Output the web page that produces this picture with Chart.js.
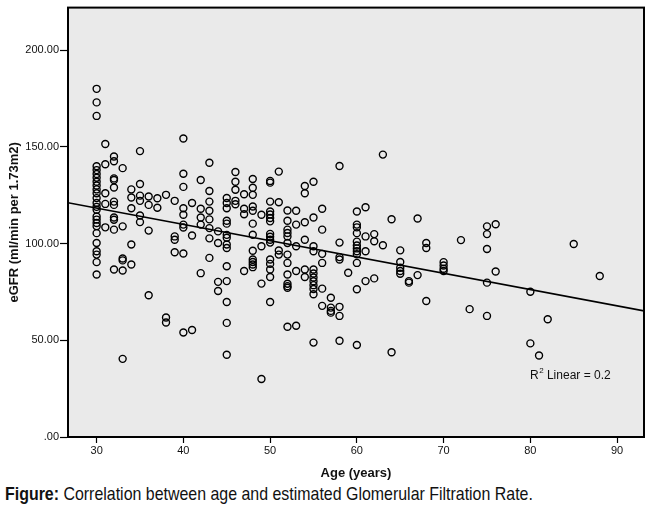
<!DOCTYPE html>
<html>
<head>
<meta charset="utf-8">
<script src="https://cdn.jsdelivr.net/npm/chart.js@4.4.1/dist/chart.umd.min.js"></script>
<style>
  html, body { margin: 0; padding: 0; background: #ffffff; }
  #wrap { position: relative; width: 650px; height: 482px; }
  #caption {
    position: absolute; left: 5px; top: 483px; margin: 0;
    font-family: "Liberation Sans Narrow", "Liberation Sans", Arial, sans-serif;
    font-stretch: condensed;
    font-size: 18.5px; line-height: 22px; color: #111; white-space: nowrap;
    transform-origin: 0 50%;
  }
  #caption b { font-weight: bold; }
</style>
</head>
<body>
<div id="wrap"><canvas id="c" width="650" height="482"></canvas></div>
<div id="caption"><b>Figure:</b> Correlation between age and estimated Glomerular Filtration Rate.</div>
<script>
// ---- data ----
const ages = [
  30,30,30,30,30,30,30,30,30,30,30,30,30,30,30,30,30,30,30,30,30,30,30,30,30,
  31,31,31,31,31,
  32,32,32,32,32,32,32,32,32,32,32,
  33,33,33,33,33,33,
  34,34,34,34,34,
  35,35,35,35,35,35,
  36,36,36,36,
  37,37,
  38,38,38,
  39,39,39,39,
  40,40,40,40,40,40,40,40,40,
  41,41,41,
  42,42,42,42,42,
  43,43,43,43,43,43,43,43,
  44,44,44,44,
  45,45,45,45,45,45,45,45,45,45,45,45,45,45,
  46,46,46,46,46,
  47,47,47,47,
  48,48,48,48,48,48,48,48,48,48,48,48,
  49,49,49,49,
  50,50,50,50,50,50,50,50,50,50,50,50,50,50,50,50,
  51,51,51,51,
  52,52,52,52,52,52,52,52,52,52,52,52,52,
  53,53,53,53,53,
  54,54,54,54,54,54,
  55,55,55,55,55,55,55,55,55,55,55,55,
  56,56,56,56,56,56,
  57,57,57,57,
  58,58,58,58,58,58,58,
  59,
  60,60,60,60,60,60,60,60,60,60,60,60,
  61,61,61,61,
  62,62,62,
  63,63,
  64,64,
  65,65,65,65,65,
  66,66,
  67,67,
  68,68,68,
  70,70,70,70,
  72,
  73,
  75,75,75,75,75,
  76,76,
  80,80,
  81,
  82,
  85,
  88
];
const egfr = [
  180,173,166,140,138,136,134,132,130,128,126,123.5,121,119,117.5,114,112.4,110.6,109,105.4,100.3,96,94.3,90.4,84,
  151.5,141,126,120.5,108.4,
  145,142.6,133.7,132.9,129,121.7,120,113.5,112.3,107.2,86.6,
  139,108.9,92.3,91.3,86.1,40.4,
  128,123.8,118.3,99.5,89.2,
  147.8,130.8,124.8,122.1,114.5,111.1,
  124.3,120,106.7,73.3,
  123.4,118.5,
  125.2,61.8,59.2,
  122.1,103.7,102,95.5,
  154.3,136.1,129.3,118.3,114.9,109.8,108.3,94.9,54,
  121,104.2,55.3,
  132.9,118,113.5,109.8,84.7,
  141.8,127.2,121.7,117,112.5,108,102.7,92.6,
  106.3,100.3,80.2,75.5,
  123.6,121,118.3,111.8,110.3,104.5,103,99.5,97.7,88.3,80.6,69.8,59,42.5,
  137,132,127.8,122.1,120.3,
  125.5,118,115.2,85.8,
  133.4,128.9,125.2,119.2,117,110.3,104.6,96.3,91.8,90.5,89.2,87.8,
  114.9,98.6,79.3,30,
  132.4,131.5,121.7,116.6,115,113.2,111.5,105,103.5,102,100.5,91.8,89.5,86.6,82.7,69.8,
  137.2,121.4,96.4,94.3,
  117.1,111.8,107.2,105.5,103.7,100.3,94.3,90,84,79.2,78,77.2,57,
  117,109.8,98.6,85.8,57.5,
  129.8,126,111,102,86.6,82.7,
  132,113.5,98.6,96,86.6,84.5,82.5,80.5,78.5,76.5,73.8,48.8,
  118,107.2,94.7,90,76.7,67.8,
  72,66.9,65.2,64.3,
  140.1,100.5,93,91.8,67.3,62.6,49.8,
  84.9,
  116.6,109.8,108.4,105.4,101,99,97.5,96,94.5,90,76.4,47.6,
  118.8,103.7,96,80.6,
  104.9,101.2,82,
  146,99.1,
  112.6,43.8,
  96.5,90.5,87.5,85.8,84.4,
  80.6,79.8,
  113,83.7,
  100.3,97.7,70.3,
  90.4,88.7,87,85.8,
  101.8,
  66.1,
  108.9,104.9,97.2,79.8,62.6,
  110,85.6,
  75.1,48.4,
  42.1,
  60.9,
  99.8,
  83.2
];
// fit line end points
const fitX = [26.7, 93.1];
const fitY = [121.1, 65.2];
const xTicks = [30, 40, 50, 60, 70, 80, 90];
const yTicks = [0, 50, 100, 150, 200];
const r2Label = 'Linear = 0.2';

const points = ages.map((a, i) => ({ x: a, y: egfr[i] }));
const fitLine = fitX.map((x, i) => ({ x: x, y: fitY[i] }));

const FONT = '"Liberation Sans", Arial, sans-serif';

// condense caption to the reference's width
(function () {
  const cap = document.getElementById('caption');
  const w = cap.scrollWidth;
  if (w > 0) cap.style.transform = 'scaleX(' + (528 / w).toFixed(4) + ')';
})();

const plotDecor = {
  id: 'plotDecor',
  beforeDraw(chart) {
    const { ctx, chartArea: a } = chart;
    ctx.save();
    ctx.fillStyle = '#eaeaea';
    ctx.fillRect(a.left, a.top, a.right - a.left, a.bottom - a.top);
    ctx.restore();
  },
  afterDraw(chart) {
    const { ctx, chartArea: a } = chart;
    ctx.save();
    ctx.strokeStyle = '#000';
    ctx.lineWidth = 2;
    ctx.strokeRect(a.left, a.top, a.right - a.left, a.bottom - a.top);
    // R squared annotation
    const x0 = a.right - 114, y0 = a.bottom - 61;
    ctx.fillStyle = '#111';
    ctx.textBaseline = 'middle';
    ctx.textAlign = 'left';
    ctx.font = '12px ' + FONT;
    ctx.fillText('R', x0, y0);
    const wR = ctx.measureText('R').width;
    ctx.font = '8px ' + FONT;
    ctx.fillText('2', x0 + wR + 0.5, y0 - 5);
    const w2 = ctx.measureText('2').width;
    ctx.font = '12px ' + FONT;
    ctx.fillText(' ' + r2Label, x0 + wR + w2 + 0.5, y0);
    ctx.restore();
  }
};

new Chart(document.getElementById('c'), {
  type: 'scatter',
  data: {
    datasets: [
      {
        label: 'eGFR',
        data: points,
        pointStyle: 'circle',
        pointRadius: 3.5,
        pointHoverRadius: 3.5,
        borderWidth: 1.4,
        borderColor: '#000',
        backgroundColor: 'rgba(0,0,0,0)',
        order: 2
      },
      {
        type: 'line',
        label: 'Fit',
        data: fitLine,
        borderColor: '#000',
        borderWidth: 1.6,
        pointRadius: 0,
        fill: false,
        tension: 0,
        order: 1
      }
    ]
  },
  options: {
    responsive: false,
    animation: false,
    devicePixelRatio: 1,
    layout: { padding: { top: 5, right: 6, left: 0, bottom: 0 } },
    plugins: { legend: { display: false }, tooltip: { enabled: false } },
    scales: {
      x: {
        type: 'linear',
        min: 26.7,
        max: 93.1,
        afterBuildTicks(scale) { scale.ticks = xTicks.map(v => ({ value: v })); },
        afterFit(scale) { scale.height = 45; },
        ticks: {
          color: '#111',
          font: { family: FONT, size: 11 },
          padding: 1,
          maxRotation: 0,
          autoSkip: false,
          callback: v => String(v)
        },
        grid: { display: true, drawOnChartArea: false, drawTicks: true, tickLength: 6, color: '#000', tickWidth: 1.2 },
        border: { display: true, color: '#000', width: 2 },
        title: {
          display: true,
          text: 'Age (years)',
          color: '#111',
          font: { family: FONT, size: 13, weight: 'bold' },
          padding: { top: 0, bottom: 1 }
        }
      },
      y: {
        type: 'linear',
        min: 0,
        max: 222,
        afterBuildTicks(scale) { scale.ticks = yTicks.map(v => ({ value: v })); },
        afterFit(scale) { scale.width = 68; },
        ticks: {
          color: '#111',
          font: { family: FONT, size: 11 },
          padding: 1,
          autoSkip: false,
          callback: v => (v === 0 ? '.00' : Number(v).toFixed(2))
        },
        grid: { display: true, drawOnChartArea: false, drawTicks: true, tickLength: 8, color: '#000', tickWidth: 1.2 },
        border: { display: true, color: '#000', width: 2 },
        title: {
          display: true,
          text: 'eGFR (ml/min per 1.73m2)',
          color: '#111',
          font: { family: FONT, size: 13, weight: 'bold' },
          padding: { top: 7, bottom: 0 }
        }
      }
    }
  },
  plugins: [plotDecor]
});
</script>
</body>
</html>
